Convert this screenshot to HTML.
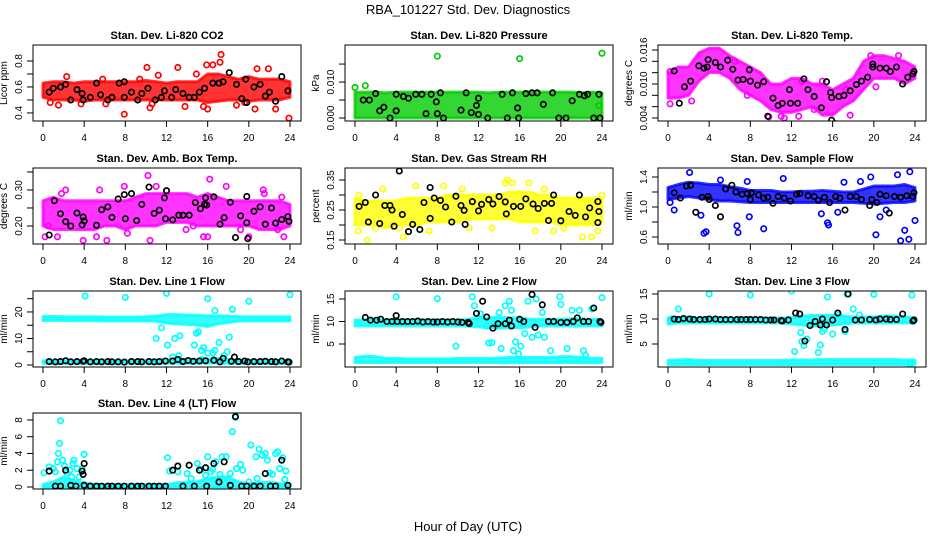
<!DOCTYPE html>
<html><head><meta charset="utf-8"><style>
body{margin:0;background:#fff;}
svg{display:block;font-family:"Liberation Sans",sans-serif;}
</style></head><body>
<svg id="chart" width="936" height="540" viewBox="0 0 936 540">
<text x="468" y="14" text-anchor="middle" font-size="13">RBA_101227  Std. Dev. Diagnostics</text>
<text x="468" y="531" text-anchor="middle" font-size="13">Hour of Day (UTC)</text>
</svg>
<script>
const hours=[0,1,2,3,4,5,6,7,8,9,10,11,12,13,14,15,16,17,18,19,20,21,22,23,24];
const xTicks=[0,4,8,12,16,20,24];

// CO2
const co2Lo=[0.52,0.50,0.50,0.50,0.49,0.50,0.50,0.50,0.50,0.50,0.50,0.50,0.50,0.50,0.50,0.50,0.48,0.49,0.50,0.50,0.49,0.50,0.50,0.50,0.52];
const co2Hi=[0.63,0.64,0.64,0.63,0.64,0.64,0.64,0.64,0.64,0.64,0.65,0.64,0.63,0.64,0.64,0.64,0.70,0.70,0.68,0.66,0.68,0.66,0.66,0.66,0.64];
const co2Out=[[0.7,0.48],[1.5,0.46],[2.3,0.68],[5.8,0.66],[7.9,0.39],[9.4,0.66],[10.1,0.75],[10.4,0.44],[10.6,0.47],[11.2,0.69],[13.1,0.75],[13.8,0.45],[15.6,0.45],[15.9,0.77],[16.0,0.43],[16.2,0.97],[16.5,0.77],[17.2,0.79],[17.3,0.85],[17.5,0.97],[18.8,0.46],[20.6,0.43],[20.8,0.74],[21.9,0.74],[22.6,0.43],[23.9,0.36],[19.6,0.48],[14.9,0.70],[6.1,0.47],[3.7,0.47]];
const co2Blk=[[0.6,0.56],[1.0,0.59],[1.7,0.60],[2.2,0.62],[2.7,0.50],[3.3,0.58],[3.8,0.55],[3.9,0.50],[4.6,0.52],[5.2,0.63],[5.6,0.54],[6.3,0.50],[6.7,0.52],[7.4,0.63],[7.9,0.64],[7.9,0.52],[8.6,0.56],[9.2,0.50],[9.6,0.55],[10.2,0.59],[10.9,0.50],[11.5,0.52],[11.8,0.57],[12.5,0.52],[12.9,0.58],[13.6,0.55],[14.2,0.52],[14.7,0.52],[15.2,0.56],[15.7,0.59],[16.5,0.63],[17.1,0.63],[17.5,0.64],[18.1,0.71],[18.8,0.62],[19.3,0.51],[19.7,0.66],[19.8,0.48],[20.5,0.60],[21.1,0.62],[21.6,0.53],[22.0,0.56],[22.6,0.49],[23.2,0.68],[23.8,0.57]];
const co2Ticks=[0.4,0.5,0.6,0.7,0.8];
const co2Labels=["0.4","","0.6","","0.8"];

// Pressure
const prsLo=[0,0,0,0,0,0,0,0,0,0,0,0,0,0,0,0,0,0,0,0,0,0,0,0,0];
const prsHi=[0.0072,0.0072,0.0072,0.0070,0.0072,0.0072,0.0072,0.0072,0.0072,0.0072,0.0072,0.0072,0.0072,0.0070,0.0072,0.0072,0.0072,0.0072,0.0072,0.0072,0.0072,0.0072,0.0070,0.0072,0.0070];
const prsOut=[[8.0,0.0172],[16.0,0.0165],[24.0,0.0180],[0.0,0.0085],[23.7,0.0035],[1.0,0.0090]];
const prsBlk=[[0.8,0.0050],[1.4,0.0050],[2.0,0.0068],[2.4,0.0020],[2.8,0.0030],[3.4,0.0],[4.0,0.0066],[4.0,0.0020],[4.7,0.0060],[5.2,0.0055],[5.9,0.0066],[6.5,0.0066],[6.9,0.0012],[7.4,0.0066],[7.9,0.0045],[8.0,0.0012],[8.3,0.0070],[8.6,0.0],[10.8,0.0070],[10.3,0.0022],[11.3,0.0015],[11.8,0.0035],[12.0,0.0055],[12.0,0.0010],[12.9,0.0],[14.3,0.0066],[14.8,0.0],[15.3,0.0070],[15.8,0.0028],[15.9,0.0],[16.6,0.0068],[17.2,0.0070],[17.7,0.0070],[18.3,0.0038],[19.2,0.0070],[19.8,0.0],[20.5,0.0],[21.1,0.0048],[21.8,0.0066],[22.3,0.0062],[22.6,0.0066],[23.2,0.0],[23.7,0.0066],[23.8,0.0]];
const prsTicks=[0,0.005,0.010,0.015];
const prsLabels=["0.000","","0.010",""];

// Li-820 Temp
const tmpLo=[0.0075,0.0075,0.0080,0.0105,0.0120,0.0120,0.0110,0.0090,0.0080,0.0070,0.0055,0.0050,0.0050,0.0055,0.0060,0.0045,0.0045,0.0060,0.0070,0.0090,0.0110,0.0110,0.0110,0.0100,0.0110];
const tmpHi=[0.0120,0.0130,0.0130,0.0155,0.0163,0.0163,0.0150,0.0140,0.0130,0.0120,0.0100,0.0100,0.0110,0.0110,0.0100,0.0100,0.0090,0.0100,0.0110,0.0140,0.0150,0.0150,0.0145,0.0140,0.0130];
const tmpOut=[[0.2,0.0065],[0.2,0.0122],[2.3,0.0070],[6.5,0.0140],[7.7,0.0080],[9.8,0.0042],[11.0,0.0043],[11.3,0.0040],[12.7,0.0043],[13.0,0.0105],[14.2,0.0055],[15.0,0.0105],[16.3,0.0030],[17.7,0.0045],[17.3,0.0090],[19.7,0.0150],[20.2,0.0095],[22.4,0.0150]];
const tmpBlk=[[0.6,0.0123],[1.1,0.0066],[1.6,0.0095],[2.2,0.0105],[3.0,0.0132],[3.5,0.0128],[3.8,0.0130],[3.9,0.0143],[4.6,0.0138],[5.1,0.0130],[5.8,0.0142],[6.3,0.0126],[6.8,0.0107],[7.3,0.0108],[7.9,0.0125],[8.0,0.0105],[8.7,0.0098],[9.3,0.0104],[9.7,0.0043],[10.2,0.0075],[10.7,0.0062],[11.1,0.0066],[11.8,0.0090],[11.9,0.0066],[12.6,0.0066],[13.2,0.0109],[13.6,0.0090],[14.2,0.0078],[14.9,0.0058],[15.4,0.0104],[15.8,0.0085],[15.9,0.0076],[15.9,0.0036],[16.6,0.0078],[17.1,0.0080],[17.7,0.0088],[18.3,0.0099],[18.8,0.0105],[19.4,0.0112],[19.9,0.0135],[19.9,0.0130],[20.6,0.0128],[21.2,0.0128],[21.6,0.0122],[22.2,0.0130],[22.8,0.0100],[23.3,0.0112],[23.8,0.0118],[23.9,0.0122]];
const tmpTicks=[0.004,0.006,0.008,0.010,0.012,0.014,0.016];
const tmpLabels=["0.004","","","0.010","","","0.016"];

// Amb box temp
const ambLo=[0.20,0.19,0.19,0.19,0.19,0.19,0.20,0.20,0.19,0.20,0.20,0.20,0.21,0.21,0.21,0.20,0.20,0.20,0.20,0.20,0.20,0.19,0.19,0.19,0.20];
const ambHi=[0.27,0.28,0.27,0.27,0.27,0.27,0.27,0.27,0.27,0.28,0.29,0.29,0.29,0.29,0.29,0.28,0.29,0.28,0.27,0.27,0.27,0.27,0.27,0.27,0.26];
const ambOut=[[0.2,0.17],[0.5,0.20],[1.4,0.17],[1.8,0.29],[2.2,0.30],[3.9,0.16],[5.2,0.17],[5.5,0.30],[6.2,0.16],[7.9,0.31],[8.2,0.18],[10.2,0.34],[10.4,0.16],[11.0,0.31],[13.9,0.19],[14.6,0.20],[15.6,0.17],[16.0,0.17],[16.2,0.33],[17.8,0.31],[19.2,0.19],[20.0,0.17],[21.4,0.30],[21.5,0.29],[22.8,0.19],[23.4,0.17],[23.2,0.28]];
const ambBlk=[[0.6,0.175],[1.1,0.270],[1.7,0.234],[2.2,0.212],[2.7,0.200],[3.3,0.236],[3.8,0.203],[3.9,0.225],[4.0,0.214],[4.6,0.380],[5.2,0.202],[5.7,0.245],[6.3,0.253],[6.7,0.224],[7.3,0.275],[7.9,0.287],[8.0,0.220],[8.6,0.290],[9.1,0.215],[9.6,0.260],[10.3,0.308],[10.8,0.235],[11.3,0.244],[11.8,0.278],[11.9,0.220],[12.0,0.298],[12.6,0.217],[13.2,0.230],[13.6,0.230],[14.2,0.230],[14.8,0.265],[15.3,0.248],[15.7,0.260],[15.8,0.278],[15.9,0.258],[16.6,0.281],[17.2,0.205],[17.6,0.223],[18.2,0.266],[18.7,0.168],[19.2,0.228],[19.8,0.282],[19.8,0.209],[19.9,0.165],[20.5,0.241],[21.1,0.253],[21.6,0.205],[22.2,0.250],[22.6,0.208],[23.2,0.218],[23.8,0.226],[23.9,0.213]];
const ambTicks=[0.20,0.25,0.30,0.35];
const ambLabels=["0.20","","0.30",""];

// Gas stream RH
const rhLo=[0.20,0.20,0.20,0.19,0.20,0.20,0.20,0.21,0.21,0.21,0.21,0.22,0.22,0.22,0.22,0.22,0.21,0.21,0.21,0.21,0.20,0.20,0.20,0.20,0.21];
const rhHi=[0.29,0.28,0.28,0.28,0.28,0.29,0.29,0.29,0.29,0.30,0.30,0.30,0.30,0.30,0.30,0.31,0.31,0.31,0.30,0.30,0.29,0.29,0.29,0.29,0.29];
const rhOut=[[0.3,0.18],[1.2,0.15],[2.0,0.19],[2.7,0.32],[4.3,0.19],[4.7,0.16],[5.9,0.33],[7.2,0.18],[8.6,0.33],[10.4,0.32],[11.1,0.19],[13.3,0.19],[14.6,0.34],[14.8,0.35],[15.3,0.34],[16.9,0.34],[17.5,0.18],[18.4,0.32],[19.3,0.18],[20.3,0.19],[22.1,0.16],[23.0,0.16],[23.6,0.18],[0.4,0.30],[24.0,0.30]];
const rhBlk=[[0.4,0.262],[1.0,0.275],[1.3,0.210],[2.0,0.300],[2.4,0.205],[2.9,0.265],[3.4,0.265],[3.6,0.250],[3.8,0.196],[4.3,0.380],[4.6,0.235],[5.2,0.178],[5.6,0.202],[6.3,0.185],[6.7,0.275],[7.3,0.325],[7.3,0.222],[7.7,0.290],[8.3,0.282],[8.8,0.260],[9.4,0.210],[9.8,0.296],[10.3,0.265],[10.6,0.249],[10.7,0.202],[11.4,0.278],[12.0,0.247],[12.3,0.269],[13.0,0.285],[13.4,0.270],[14.0,0.295],[14.6,0.277],[14.7,0.237],[15.4,0.262],[16.1,0.262],[16.6,0.287],[17.3,0.270],[17.8,0.255],[18.4,0.272],[18.8,0.215],[19.1,0.272],[19.3,0.300],[20.0,0.214],[20.8,0.245],[21.4,0.232],[21.8,0.300],[22.4,0.227],[22.8,0.257],[23.6,0.278],[23.6,0.208],[23.7,0.245]];
const rhTicks=[0.15,0.20,0.25,0.30,0.35];
const rhLabels=["0.15","","0.25","","0.35"];

// Sample flow
const smpLo=[1.10,1.12,1.14,1.12,1.10,1.08,1.08,1.07,1.06,1.06,1.06,1.06,1.06,1.06,1.06,1.06,1.06,1.06,1.06,1.05,1.04,1.05,1.06,1.06,1.08];
const smpHi=[1.26,1.30,1.33,1.32,1.30,1.30,1.27,1.25,1.22,1.22,1.22,1.20,1.20,1.21,1.21,1.22,1.21,1.20,1.20,1.24,1.28,1.28,1.28,1.30,1.26];
const smpOut=[[0.2,1.06],[0.6,0.96],[2.1,1.46],[3.2,0.89],[3.5,0.65],[3.7,0.67],[5.1,1.36],[6.7,0.75],[6.8,0.66],[7.7,1.34],[7.9,0.87],[9.3,0.71],[11.2,1.38],[14.9,0.91],[15.5,0.79],[15.6,0.76],[16.5,0.93],[17.1,1.33],[18.7,1.34],[19.7,1.40],[20.2,0.63],[20.6,0.87],[21.2,0.96],[22.3,1.43],[22.6,0.55],[23.0,0.69],[23.4,0.57],[23.5,1.47],[24.0,0.82]];
const smpBlk=[[0.6,1.19],[1.2,1.12],[1.8,1.28],[2.2,1.29],[2.7,0.93],[3.3,1.13],[3.9,1.14],[4.0,1.10],[4.6,1.02],[5.1,0.87],[5.6,1.24],[6.2,1.29],[6.6,1.20],[7.2,1.17],[7.7,1.18],[8.0,1.10],[8.1,1.19],[8.8,1.16],[9.3,1.12],[9.7,1.13],[10.2,1.05],[10.7,1.14],[11.3,1.12],[11.9,1.08],[12.5,1.17],[12.8,1.18],[13.6,1.15],[14.2,1.14],[14.6,1.09],[15.2,1.13],[15.7,1.06],[16.3,1.14],[16.7,1.12],[17.2,0.96],[17.7,1.14],[18.3,1.14],[18.8,1.10],[19.6,1.02],[19.8,1.10],[20.3,1.06],[20.6,1.17],[21.2,1.15],[21.5,0.92],[22.0,1.14],[22.6,1.13],[23.2,1.15],[23.8,1.14],[23.9,1.19]];
const smpTicks=[0.6,0.8,1.0,1.2,1.4];
const smpLabels=["0.6","","1.0","","1.4"];

// Line 1 flow
const l1HiLo=[16.8,16.8,16.8,16.7,16.7,16.7,16.6,16.6,16.6,16.6,16.6,16.5,15.8,15.5,15.3,15.0,14.5,15.5,16.0,16.6,16.6,16.6,16.6,16.6,16.6];
const l1HiHi=[18.3,18.3,18.2,18.2,18.2,18.2,18.1,18.1,18.1,18.1,18.2,18.5,19.0,19.0,18.8,18.8,18.5,18.5,18.5,18.2,18.2,18.2,18.2,18.2,18.2];
const l1LoLo=[0.6,0.6,0.6,0.6,0.6,0.6,0.6,0.6,0.6,0.6,0.6,0.6,0.6,0.7,0.7,0.7,0.7,0.7,0.6,0.6,0.6,0.6,0.6,0.6,0.6];
const l1LoHi=[1.6,1.6,1.6,1.6,1.6,1.6,1.6,1.6,1.6,1.6,1.6,1.7,2.0,2.2,2.0,2.0,2.2,2.5,2.0,1.8,1.7,1.7,1.7,1.7,1.7];
const l1Out=[[4.1,26],[8.0,25.5],[12.0,27],[16.0,25],[20.0,24],[24.0,26.5],[11.0,10],[11.5,14],[12.1,7.5],[12.8,10],[13.3,11],[14.7,7.5],[14.9,12],[15.1,12.5],[15.4,5.5],[15.6,6.5],[16.0,4.5],[16.5,4.5],[16.7,5.5],[17.1,8.5],[17.6,3.5],[17.9,5],[18.1,10.5],[18.4,21],[16.7,20.5],[15.4,2.0],[12.6,3],[13.2,3.5]];
const l1Blk=[[0.6,1.3],[1.2,1.2],[1.7,1.3],[2.2,1.6],[2.7,1.2],[3.3,1.3],[3.9,1.4],[4.0,1.6],[4.6,1.2],[5.2,1.3],[5.7,1.2],[6.3,1.3],[6.7,1.2],[7.3,1.2],[7.9,1.1],[8.6,1.3],[9.2,1.3],[9.6,1.2],[10.3,1.3],[10.8,1.2],[11.3,1.3],[11.9,1.5],[12.6,1.5],[13.1,2.1],[13.6,1.3],[14.1,1.7],[14.6,1.4],[15.2,1.5],[15.8,1.6],[16.6,1.8],[17.2,1.2],[17.5,2.5],[18.3,1.4],[18.6,3.0],[19.0,1.3],[19.6,1.5],[19.9,1.2],[20.5,1.3],[21.1,1.3],[21.6,1.4],[22.2,1.3],[22.6,1.2],[23.2,1.5],[23.8,1.2],[23.9,1.1]];
const l1Ticks=[0,5,10,15,20,25];
const l1Labels=["0","","10","","20",""];

// Line 2 flow
const l2HiLo=[9.0,9.0,9.0,9.0,9.0,9.0,9.0,9.0,9.0,9.0,9.0,9.0,8.8,8.6,8.5,8.6,8.6,8.8,9.0,9.0,9.0,9.0,9.0,9.0,9.0];
const l2HiHi=[10.3,10.4,10.5,10.3,10.3,10.3,10.3,10.3,10.3,10.3,10.3,10.5,10.8,10.8,11.0,10.8,10.8,10.5,10.5,10.5,10.5,10.6,10.6,10.5,10.4];
const l2LoLo=[0.9,0.9,0.9,0.9,0.9,0.9,0.9,0.9,0.9,0.9,0.9,0.9,0.9,0.9,0.9,0.9,0.9,0.9,0.9,0.9,0.9,0.9,0.9,0.9,0.9];
const l2LoHi=[2.0,2.3,2.2,1.8,1.8,1.7,1.7,1.7,1.7,1.7,1.8,1.8,1.8,1.8,1.9,2.0,2.0,2.0,2.0,2.0,2.2,2.2,2.0,1.8,1.8];
const l2Out=[[4.0,15.5],[8.0,15.1],[11.4,15.5],[11.6,13.5],[12.2,11.7],[12.8,9.0],[13.0,5.2],[13.3,5.3],[13.6,9.5],[14.0,12.0],[14.2,4.0],[14.6,13.5],[15.0,14.5],[15.2,12.5],[15.4,3.5],[15.6,5.5],[15.9,2.8],[16.1,4.5],[16.3,9.5],[16.5,7.3],[16.8,14.5],[17.2,6.5],[17.6,15.0],[17.8,7.0],[18.2,12.0],[18.4,6.5],[19.0,3.5],[19.9,15.5],[20.0,13.8],[20.6,4.0],[21.1,12.5],[21.8,12.5],[22.2,3.5],[22.4,2.5],[23.0,12.8],[24.0,15.3],[9.8,4.5]];
const l2Blk=[[1.0,10.9],[1.5,10.3],[2.1,10.3],[2.5,10.5],[3.1,10.0],[3.6,10.0],[4.0,11.3],[4.1,10.0],[4.6,10.0],[5.1,10.0],[5.6,10.0],[6.1,10.1],[6.6,9.9],[7.1,10.0],[7.6,9.9],[8.0,9.9],[8.5,10.0],[9.0,9.9],[9.5,10.0],[10.0,9.9],[10.4,9.8],[11.0,9.8],[11.1,9.5],[11.8,11.8],[12.4,14.5],[12.8,11.0],[13.4,8.5],[13.9,9.5],[14.6,9.5],[15.0,10.3],[15.2,9.0],[16.0,10.5],[16.4,10.0],[17.2,16.0],[17.5,8.7],[18.2,13.7],[18.8,10.0],[19.3,10.0],[20.0,9.8],[20.6,9.8],[21.2,10.0],[21.6,10.8],[22.2,10.0],[22.7,10.0],[23.2,13.0],[23.8,10.0],[23.9,9.8]];
const l2Ticks=[5,10,15];
const l2Labels=["5","10","15"];

// Line 3 flow
const l3HiLo=[9.0,9.2,9.2,9.2,9.2,9.2,9.2,9.2,9.2,9.2,9.2,9.2,9.0,8.8,8.6,8.6,8.8,9.0,9.2,9.2,9.2,9.2,9.2,9.2,9.2];
const l3HiHi=[10.2,10.3,10.4,10.2,10.2,10.2,10.2,10.2,10.2,10.2,10.2,10.2,10.3,10.6,10.7,10.7,10.8,10.6,10.4,10.4,10.4,10.6,10.6,10.4,10.3];
const l3LoLo=[0.9,0.9,0.9,0.9,0.9,0.9,0.9,0.9,0.9,0.9,0.9,0.9,0.9,0.9,0.9,0.9,0.9,0.9,0.9,0.9,0.9,0.9,0.9,0.9,0.9];
const l3LoHi=[1.7,1.8,1.9,1.7,1.7,1.7,1.7,1.7,1.7,1.7,1.7,1.7,1.8,1.8,1.8,1.9,1.9,1.9,1.9,1.9,1.9,1.9,1.9,1.8,1.8];
const l3Out=[[1.0,12.0],[4.0,15.0],[8.0,14.8],[12.0,15.6],[12.3,3.5],[12.9,7.3],[13.0,5.5],[13.2,4.7],[13.5,6.0],[14.6,3.3],[14.8,4.8],[15.0,7.5],[15.2,8.0],[15.5,14.4],[16.0,7.0],[17.2,7.5],[17.4,15.0],[18.0,12.0],[20.0,14.9],[23.5,1.0],[23.7,14.8],[0.3,10.0],[16.6,10.8],[18.6,10.8]];
const l3Blk=[[0.6,10.0],[1.0,9.9],[1.5,10.1],[2.1,10.0],[2.5,9.9],[3.1,9.9],[3.6,9.9],[4.0,10.0],[4.6,10.0],[5.1,9.9],[5.6,9.9],[6.1,9.9],[6.7,9.9],[7.1,9.9],[7.6,9.9],[8.0,9.9],[8.5,9.9],[9.0,9.9],[9.5,9.8],[10.0,9.8],[10.3,9.8],[11.0,9.7],[11.1,9.6],[11.7,9.8],[12.4,11.2],[12.8,11.0],[13.3,5.6],[13.8,8.7],[14.3,9.5],[14.8,8.8],[15.0,10.0],[15.4,8.8],[16.0,9.8],[16.5,11.2],[17.2,7.9],[17.5,15.0],[18.2,9.8],[18.8,9.8],[19.6,9.9],[20.2,9.8],[20.6,10.0],[21.2,10.0],[21.6,9.9],[22.2,9.9],[22.8,11.0],[23.8,9.6],[23.9,9.8]];
const l3Ticks=[5,10,15];
const l3Labels=["5","10","15"];

// Line 4 flow
const l4Lo=[-0.1,-0.1,-0.1,-0.1,-0.1,-0.1,-0.1,-0.1,-0.1,-0.1,-0.1,-0.1,-0.1,-0.1,-0.1,-0.1,-0.1,-0.1,-0.1,-0.1,-0.1,-0.1,-0.1,-0.1,-0.1];
const l4Hi=[0.3,0.6,1.2,0.8,0.5,0.3,0.3,0.3,0.3,0.3,0.3,0.3,0.3,0.5,0.6,0.6,1.0,1.2,1.2,0.6,0.4,0.5,0.6,0.4,0.3];
const l4Out=[[0.1,1.7],[0.6,2.4],[1.0,2.2],[1.2,1.8],[1.4,3.0],[1.5,4.0],[1.6,5.2],[1.7,7.9],[1.9,3.2],[2.1,2.5],[2.3,1.7],[2.6,2.0],[2.8,1.2],[2.9,2.8],[3.0,3.2],[3.3,2.2],[3.5,1.2],[3.8,2.2],[4.0,3.9],[12.1,3.5],[12.3,1.9],[13.1,1.8],[14.0,1.6],[14.4,1.0],[15.0,2.8],[15.4,2.1],[15.8,1.4],[16.0,3.6],[16.3,1.8],[16.5,2.1],[16.8,3.0],[17.2,1.5],[17.4,3.6],[17.8,3.6],[18.2,1.6],[18.4,6.6],[18.7,8.3],[18.8,2.2],[19.2,2.7],[19.4,2.0],[20.0,0.6],[20.2,5.0],[20.7,3.6],[20.8,1.0],[21.0,4.5],[21.3,3.8],[21.6,4.0],[21.8,3.2],[22.0,1.7],[22.3,1.5],[22.6,4.0],[22.8,4.2],[23.0,2.2],[23.3,3.5],[23.5,0.9],[23.6,1.9]];
const l4Blk=[[0.6,1.9],[1.2,0.1],[1.7,0.1],[2.2,2.0],[2.7,0.2],[3.2,0.1],[3.8,1.9],[3.9,1.5],[4.0,2.8],[4.0,0.2],[4.6,0.1],[5.2,0.1],[5.7,0.1],[6.3,0.1],[6.7,0.1],[7.3,0.1],[7.9,0.1],[8.6,0.1],[9.2,0.1],[9.6,0.1],[10.3,0.1],[10.8,0.1],[11.3,0.1],[11.9,0.1],[12.6,2.0],[13.1,2.5],[13.6,0.1],[14.2,2.6],[14.7,0.1],[15.2,2.0],[15.8,2.3],[15.9,0.1],[16.6,2.8],[17.1,0.6],[17.6,3.0],[18.2,0.2],[18.7,8.4],[19.3,0.1],[19.8,0.1],[20.5,0.1],[21.1,0.1],[21.6,1.6],[22.1,0.1],[22.6,0.1],[23.2,3.2],[23.8,0.2]];
const l4Ticks=[0,2,4,6,8];
const l4Labels=["0","2","4","6","8"];

const svg=document.getElementById('chart');
const NS='http://www.w3.org/2000/svg';
function mk(tag,attrs,parent){const e=document.createElementNS(NS,tag);for(const k in attrs)e.setAttribute(k,attrs[k]);parent.appendChild(e);return e;}

const colLeft=[33,345,658], rowTop=[45,168,291,413], PW=268, PH=76;

function panel(o){
  const L=colLeft[o.col], T=rowTop[o.row], B=T+PH, R=L+PW;
  const g=mk('g',{},svg);
  
  
  const xs=h=>L+10+h*(247/24);
  const ys=v=>B-(v-o.ymin)/(o.ymax-o.ymin)*PH;
  const cp=mk('clipPath',{id:'cp'+o.name},g);
  mk('rect',{x:L,y:T,width:PW,height:PH},cp);
  const plot=mk('g',{'clip-path':'url(#cp'+o.name+')'},g);
  
  
  o.bands.forEach((bd,bi)=>{
    let pts=hours.map((h,i)=>xs(h)+','+ys(bd[1][i]));
    pts=pts.concat(hours.slice().reverse().map((h,j)=>{const i=hours.length-1-j;return xs(h)+','+ys(bd[0][i]);}));
    const p=mk('polygon',{points:pts.join(' '),fill:o.color,'fill-opacity':0.8,stroke:o.color,'stroke-opacity':0.8,'stroke-width':3,'stroke-linejoin':'round'},plot);
    
    
  });
  o.out.forEach(pt=>{
    const c=mk('circle',{cx:xs(pt[0]),cy:ys(pt[1]),r:2.7,fill:'none',stroke:o.color,'stroke-width':1.7},plot);
    
    
  });
  o.blk.forEach(pt=>{
    const c=mk('circle',{cx:xs(pt[0]),cy:ys(pt[1]),r:2.7,fill:'none',stroke:'#000','stroke-width':1.7},plot);
    
    
  });
  const box=mk('rect',{x:L,y:T,width:PW,height:PH,fill:'none',stroke:'#000','stroke-width':1},g);
  
  
  const t=mk('text',{x:(L+R)/2,y:T-6,'text-anchor':'middle','font-size':11,'font-weight':'bold'},g);
  t.textContent=o.title;
  
  
  xTicks.forEach(h=>{
    mk('line',{x1:xs(h),x2:xs(h),y1:B,y2:B+6,stroke:'#000'},g);
    const tl=mk('text',{x:xs(h),y:B+20,'text-anchor':'middle','font-size':10},g);
    tl.textContent=h;
    
    
  });
  o.ticks.forEach((v,i)=>{
    const y=ys(v);
    mk('line',{x1:L-6,x2:L,y1:y,y2:y,stroke:'#000'},g);
    if(o.labels[i]){
      const tl=mk('text',{x:L-11,y:y,'text-anchor':'middle','font-size':10,transform:'rotate(-90 '+(L-11)+' '+y+')'},g);
      tl.textContent=o.labels[i];
      
      
    }
  });
  const yl=mk('text',{x:L-26,y:(T+B)/2,'text-anchor':'middle','font-size':10,transform:'rotate(-90 '+(L-26)+' '+((T+B)/2)+')'},g);
  yl.textContent=o.ylab;
  
  
}

panel({name:'co2',col:0,row:0,title:'Stan. Dev. Li-820 CO2',ylab:'Licor ppm',ymin:0.338,ymax:0.923,color:'#ff0000',bands:[[co2Lo,co2Hi]],out:co2Out,blk:co2Blk,ticks:co2Ticks,labels:co2Labels});
panel({name:'pressure',col:1,row:0,title:'Stan. Dev. Li-820 Pressure',ylab:'kPa',ymin:-0.00083,ymax:0.0203,color:'#00cc00',bands:[[prsLo,prsHi]],out:prsOut,blk:prsBlk,ticks:prsTicks,labels:prsLabels});
panel({name:'temp',col:2,row:0,title:'Stan. Dev. Li-820 Temp.',ylab:'degrees C',ymin:0.00347,ymax:0.01688,color:'#ff00ff',bands:[[tmpLo,tmpHi]],out:tmpOut,blk:tmpBlk,ticks:tmpTicks,labels:tmpLabels});
panel({name:'ambbox',col:0,row:1,title:'Stan. Dev. Amb. Box Temp.',ylab:'degrees C',ymin:0.15,ymax:0.361,color:'#ff00ff',bands:[[ambLo,ambHi]],out:ambOut,blk:ambBlk,ticks:ambTicks,labels:ambLabels});
panel({name:'rh',col:1,row:1,title:'Stan. Dev. Gas Stream RH',ylab:'percent',ymin:0.1367,ymax:0.39,color:'#ffff00',bands:[[rhLo,rhHi]],out:rhOut,blk:rhBlk,ticks:rhTicks,labels:rhLabels});
panel({name:'sampleflow',col:2,row:1,title:'Stan. Dev. Sample Flow',ylab:'ml/min',ymin:0.507,ymax:1.52,color:'#0000ff',bands:[[smpLo,smpHi]],out:smpOut,blk:smpBlk,ticks:smpTicks,labels:smpLabels});
panel({name:'line1',col:0,row:2,title:'Stan. Dev. Line 1 Flow',ylab:'ml/min',ymin:-0.75,ymax:27.9,color:'#00ffff',bands:[[l1HiLo,l1HiHi],[l1LoLo,l1LoHi]],out:l1Out,blk:l1Blk,ticks:l1Ticks,labels:l1Labels});
panel({name:'line2',col:1,row:2,title:'Stan. Dev. Line 2 Flow',ylab:'ml/min',ymin:-0.11,ymax:16.78,color:'#00ffff',bands:[[l2HiLo,l2HiHi],[l2LoLo,l2LoHi]],out:l2Out,blk:l2Blk,ticks:l2Ticks,labels:l2Labels});
panel({name:'line3',col:2,row:2,title:'Stan. Dev. Line 3 Flow',ylab:'ml/min',ymin:0.4,ymax:15.6,color:'#00ffff',bands:[[l3HiLo,l3HiHi],[l3LoLo,l3LoHi]],out:l3Out,blk:l3Blk,ticks:l3Ticks,labels:l3Labels});
panel({name:'line4',col:0,row:3,title:'Stan. Dev. Line 4 (LT) Flow',ylab:'ml/min',ymin:-0.24,ymax:8.83,color:'#00ffff',bands:[[l4Lo,l4Hi]],out:l4Out,blk:l4Blk,ticks:l4Ticks,labels:l4Labels});
</script>
</body></html>
